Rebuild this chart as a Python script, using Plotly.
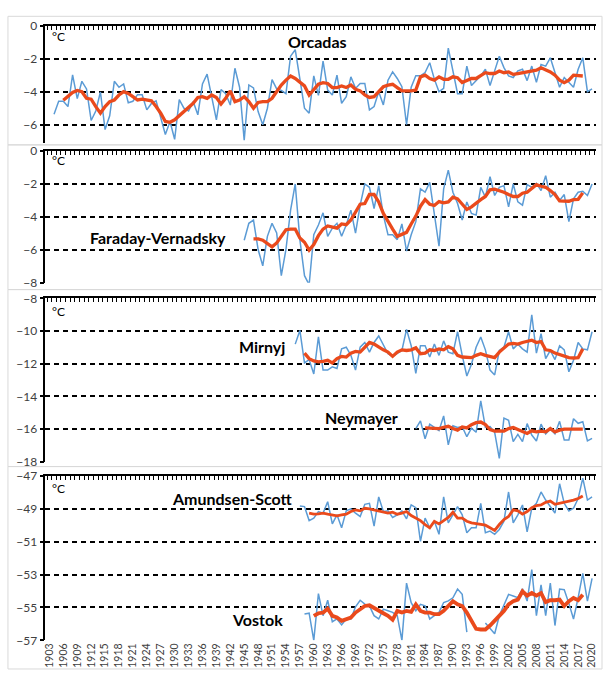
import plotly.graph_objects as go

# ---------------- data ----------------
orcadas_years = list(range(1904, 2021))
orcadas_t = [
    -5.36, -4.58, -4.58, -4.90, -2.98, -4.42, -3.37, -3.83, -5.74, -5.17,
    -4.02, -6.29, -5.46, -3.37, -3.73, -3.53, -4.67, -4.58, -4.18, -4.18,
    -5.10, -4.71, -4.55, -5.60, -6.59, -5.80, -6.88, -4.48, -5.00, -5.17,
    -4.60, -5.40, -3.53, -2.94, -4.42, -5.70, -3.87, -4.12, -4.81, -2.58,
    -3.73, -6.94, -3.59, -3.77, -5.20, -6.00, -5.00, -3.27, -3.83, -3.92,
    -4.12, -1.85, -1.46, -3.14, -5.00, -5.30, -3.04, -4.22, -2.15, -3.90,
    -4.20, -3.00, -4.70, -4.30, -3.10, -3.80, -3.50, -3.50, -5.10, -4.90,
    -4.00, -4.80, -3.30, -2.80, -3.20, -3.70, -6.00, -3.73, -3.04, -3.04,
    -2.84, -2.25, -3.24, -4.00, -3.80, -1.36, -2.64, -4.12, -4.12, -2.45,
    -3.63, -3.33, -3.04, -2.64, -3.63, -2.74, -1.85, -2.54, -3.04, -3.14,
    -2.74, -2.64, -3.33, -2.45, -3.43, -2.35, -2.45, -1.95, -2.84, -3.73,
    -3.14, -3.43, -3.73, -2.64, -1.95, -4.00, -3.83,
]
orcadas_avg_years = list(range(1906, 2019))
orcadas_avg = [
    -4.52, -4.26, -4.05, -3.92, -4.00, -4.40, -4.45, -4.90, -5.30, -4.90,
    -4.60, -4.50, -4.20, -4.00, -4.10, -4.30, -4.50, -4.45, -4.50, -4.55,
    -4.90, -5.30, -5.80, -5.85, -5.70, -5.45, -5.25, -5.00, -4.70, -4.35,
    -4.30, -4.40, -4.20, -4.35, -4.75, -4.40, -3.95, -4.60, -4.50, -4.30,
    -4.60, -5.00, -4.65, -4.60, -4.60, -4.40, -4.00, -3.60, -3.30, -3.05,
    -3.20, -3.45, -3.65, -4.20, -3.90, -3.55, -3.45, -3.50, -3.75, -3.75,
    -3.65, -3.75, -3.60, -3.85, -3.95, -4.20, -4.35, -4.30, -4.00, -3.70,
    -3.60, -3.55, -3.75, -3.95, -3.95, -3.95, -3.90, -3.10, -3.00, -3.20,
    -3.30, -3.10, -3.25, -3.25, -3.10, -3.15, -3.45, -3.30, -3.20, -3.20,
    -3.00, -2.85, -2.90, -2.90, -2.75, -2.85, -2.80, -2.95, -2.90, -2.85,
    -2.80, -2.70, -2.70, -2.55, -2.65, -2.80, -3.00, -3.30, -3.45, -3.30,
    -3.00, -3.00, -3.05,
]

faraday_years = list(range(1945, 2021))
faraday_t = [
    -5.42, -4.39, -4.19, -5.98, -6.97, -5.18, -4.39, -4.98, -7.57, -5.98,
    -3.59, -2.00, -5.38, -7.57, -8.12, -5.08, -4.49, -3.75, -5.18, -4.68,
    -4.39, -5.18, -4.49, -3.59, -4.98, -3.29, -2.00, -2.20, -3.49, -2.10,
    -3.89, -5.08, -5.08, -5.38, -4.43, -6.08, -5.08, -4.29, -2.30, -2.50,
    -1.90, -3.79, -5.78, -2.30, -1.16, -2.50, -3.19, -4.19, -3.09, -3.79,
    -3.89, -2.20, -2.80, -1.56, -2.70, -2.20, -2.10, -3.39, -2.00, -3.09,
    -3.29, -2.04, -2.20, -1.96, -2.40, -1.50, -2.80, -2.50, -3.00, -2.64,
    -4.29, -2.90, -2.50, -2.44, -2.70, -2.00,
]
faraday_avg_years = list(range(1947, 2019))
faraday_avg = [
    -5.34, -5.34, -5.42, -5.62, -5.82, -5.58, -5.18, -4.78, -4.74, -4.74,
    -5.28, -5.54, -6.02, -5.68, -5.14, -4.74, -4.55, -4.63, -4.68, -4.43,
    -4.47, -4.19, -3.69, -3.23, -3.19, -2.64, -2.64, -3.09, -3.79, -4.29,
    -4.74, -5.18, -5.08, -4.94, -4.43, -3.95, -3.35, -2.95, -3.23, -3.31,
    -3.07, -3.15, -3.09, -2.80, -2.90, -3.23, -3.55, -3.39, -3.15, -2.95,
    -2.76, -2.36, -2.32, -2.40, -2.50, -2.64, -2.76, -2.76, -2.56, -2.50,
    -2.30, -2.04, -2.14, -2.20, -2.40, -2.64, -3.03, -3.05, -3.05, -2.95,
    -2.93, -2.54,
]

mirnyj_years = list(range(1956, 2021))
mirnyj_t = [
    -10.80, -9.96, -11.95, -11.75, -12.63, -10.36, -12.39, -12.39, -12.19, -12.29,
    -11.09, -10.99, -11.49, -12.39, -10.99, -10.70, -11.29, -10.70, -10.30, -10.80,
    -11.39, -11.55, -11.39, -11.19, -9.90, -10.90, -12.59, -10.90, -10.90, -11.59,
    -10.80, -11.49, -10.60, -11.29, -11.39, -10.04, -11.49, -12.75, -12.03, -10.99,
    -10.36, -11.15, -12.39, -12.69, -11.19, -10.99, -10.04, -11.09, -10.80, -11.09,
    -11.29, -9.00, -11.35, -10.16, -11.69, -11.19, -11.75, -10.90, -11.15, -12.49,
    -11.79, -10.70, -11.09, -11.15, -10.04,
]
mirnyj_avg_years = list(range(1958, 2019))
mirnyj_avg = [
    -11.35, -11.69, -11.83, -11.89, -11.85, -11.79, -11.95, -11.69, -11.55, -11.59,
    -11.35, -11.25, -11.29, -10.99, -10.70, -10.80, -10.99, -11.15, -11.29, -11.55,
    -11.29, -11.15, -11.19, -11.15, -11.03, -11.39, -11.35, -11.15, -11.19, -11.09,
    -11.15, -10.96, -11.09, -11.49, -11.59, -11.59, -11.63, -11.49, -11.39, -11.49,
    -11.55, -11.63, -11.29, -11.03, -10.80, -10.76, -10.80, -10.70, -10.64, -10.56,
    -10.70, -10.64, -11.15, -11.19, -11.35, -11.43, -11.55, -11.63, -11.65, -11.63,
    -11.09,
]

neymayer_years = list(range(1982, 2021))
neymayer_t = [
    -15.97, -15.50, -16.60, -15.70, -15.90, -16.10, -15.20, -16.97, -15.80, -15.90,
    -15.85, -16.47, -15.95, -16.20, -14.28, -15.90, -15.85, -16.20, -17.80, -15.33,
    -15.47, -16.77, -16.33, -16.77, -15.67, -16.37, -16.73, -15.70, -16.30, -16.00,
    -16.30, -15.53, -16.67, -16.67, -15.37, -15.65, -15.55, -16.73, -16.57,
]
neymayer_avg_years = list(range(1984, 2019))
neymayer_avg = [
    -15.93, -15.93, -15.93, -15.97, -15.89, -15.83, -15.97, -16.07, -15.87, -15.93,
    -15.73, -15.61, -15.57, -15.73, -16.03, -16.13, -16.11, -16.13, -15.97, -15.91,
    -16.03, -16.13, -16.27, -16.11, -16.17, -16.13, -16.17, -15.97, -16.17, -16.07,
    -16.01, -16.01, -16.01, -16.01, -16.01,
]

amundsen_years = list(range(1957, 2021))
amundsen_t = [
    -48.82, -48.86, -49.71, -49.56, -49.16, -49.26, -48.56, -49.91, -49.36, -50.15,
    -49.12, -49.00, -49.26, -49.46, -48.72, -48.66, -50.05, -48.27, -49.16, -49.12,
    -49.52, -49.36, -49.12, -49.60, -48.76, -48.92, -50.98, -49.56, -50.15, -49.75,
    -50.55, -48.27, -49.85, -49.36, -48.86, -49.36, -50.45, -50.15, -50.15, -48.66,
    -50.45, -50.35, -50.55, -50.25, -49.75, -47.97, -49.85, -49.36, -48.76, -50.39,
    -48.96, -48.66, -47.97, -48.46, -48.86, -49.26, -47.47, -48.66, -49.12, -48.96,
    -48.37, -47.13, -48.46, -48.27,
]
amundsen_avg_years = list(range(1959, 2019))
amundsen_avg = [
    -49.26, -49.32, -49.30, -49.26, -49.32, -49.36, -49.42, -49.36, -49.32, -49.16,
    -49.06, -49.12, -48.96, -49.00, -49.06, -49.12, -49.16, -49.26, -49.20, -49.32,
    -49.26, -49.16, -49.40, -49.56, -49.71, -49.95, -50.15, -49.75, -49.91, -49.71,
    -49.52, -49.20, -49.56, -49.56, -49.75, -49.85, -49.89, -49.95, -49.99, -50.15,
    -50.31, -49.95, -49.65, -49.46, -49.06, -49.12, -49.32, -49.16, -48.92, -48.80,
    -48.76, -48.60, -48.52, -48.72, -48.66, -48.60, -48.52, -48.46, -48.37, -48.21,
]

vostok_years = list(range(1958, 2021))
vostok_t = [
    -55.40, -55.35, -57.00, -54.16, -55.50, -54.56, -55.87, -55.70, -56.06, -55.70,
    -55.70, -54.96, -54.56, -54.80, -54.90, -55.50, -55.70, -55.10, -55.20, -55.30,
    -55.50, -57.00, -53.52, -54.71, -55.20, -54.81, -54.90, -55.70, -55.50, -55.30,
    -54.70, -54.60, -54.41, -53.88, -54.20, -56.50, None, None, None, -55.94,
    -56.30, -56.60, -55.50, -54.90, -54.20, -54.30, -54.40, -53.86, -54.61, -52.69,
    -55.50, -53.62, -55.50, -53.52, -56.10, -53.88, -53.92, -54.75, -55.70, -54.40,
    -52.93, -54.61, -53.23,
]
vostok_avg_years = list(range(1960, 2019))
vostok_avg = [
    -55.51, -55.35, -55.31, -55.07, -55.51, -55.61, -55.81, -55.71, -55.61, -55.31,
    -55.11, -54.91, -54.87, -55.01, -55.21, -55.35, -55.51, -55.75, -55.21, -55.31,
    -55.21, -55.27, -54.81, -55.21, -55.31, -55.31, -55.41, -55.41, -55.21, -54.91,
    -54.62, -54.81, -54.91, -55.31, -55.81, -56.30, -56.34, -56.34, -56.10, -55.81,
    -55.51, -55.21, -54.81, -54.62, -54.52, -54.02, -54.28, -54.12, -54.28, -54.12,
    -54.67, -54.56, -54.56, -54.52, -54.91, -54.62, -54.42, -54.56, -54.22,
]

tick_labels = [
    "1903", "1906", "1909", "1912", "1915", "1918", "1921", "1924", "1927", "1930",
    "1933", "1936", "1939", "1942", "1945", "1948", "1951", "1954", "1957", "1960",
    "1963", "1966", "1969", "1972", "1975", "1978", "1981", "1984", "1987", "1990",
    "1993", "1996", "1999", "2002", "2005", "2008", "2011", "2014", "2017", "2020",
]

# ---------------- styling / layout ----------------
W, H = 605, 675
BLUE = "#5b9bd5"
RED = "#ea4a1c"
FONT = "Lato, Carlito, 'Liberation Sans', sans-serif"
X_RANGE = [1902.14, 2020.86]
X_DOM = [42.7 / W, 597 / W]


def py(y):
    return 1 - y / H


# (top px, bottom px, y-range, top tick)
panels = [
    (18.0, 138.0, [-7.1, 0], 0),
    (146.3, 281.0, [-8, 0], 0),
    (297.0, 464.0, [-18, -8], -8),
    (478.7, 646.7, [-57, -47], -47),
]

fig = go.Figure()


def add_series(years, vals, avg_years, avg, axis_idx, red_w=3.3, xname=None):
    xa = xname or ("x" if axis_idx == 1 else f"x{axis_idx}")
    ya = "y" if axis_idx == 1 else f"y{axis_idx}"
    fig.add_trace(go.Scatter(x=years, y=vals, mode="lines", xaxis=xa, yaxis=ya,
                             line=dict(color=BLUE, width=1.5), connectgaps=False,
                             hoverinfo="skip"))
    fig.add_trace(go.Scatter(x=avg_years, y=avg, mode="lines", xaxis=xa, yaxis=ya,
                             line=dict(color=RED, width=red_w), hoverinfo="skip"))


add_series(orcadas_years, orcadas_t, orcadas_avg_years, orcadas_avg, 1)
add_series(faraday_years, faraday_t, faraday_avg_years, faraday_avg, 2)
add_series(mirnyj_years, mirnyj_t, mirnyj_avg_years, mirnyj_avg, 3)
add_series(neymayer_years, neymayer_t, neymayer_avg_years, neymayer_avg, 3)
add_series(amundsen_years, amundsen_t, amundsen_avg_years, amundsen_avg, 4, red_w=2.8)
add_series(vostok_years, vostok_t, vostok_avg_years, vostok_avg, 4, red_w=3.8, xname="x5")

layout = dict(
    width=W, height=H, margin=dict(l=0, r=0, t=0, b=0),
    paper_bgcolor="white", plot_bgcolor="rgba(0,0,0,0)",
    showlegend=False, font=dict(family=FONT, color="#404040"),
)

for i, (top, bot, rng, t0) in enumerate(panels, start=1):
    xk = "xaxis" if i == 1 else f"xaxis{i}"
    yk = "yaxis" if i == 1 else f"yaxis{i}"
    layout[xk] = dict(
        domain=X_DOM, range=X_RANGE, anchor="y" if i == 1 else f"y{i}",
        side="top", showline=True, linecolor="black", linewidth=2,
        ticks="inside", ticklen=4, tickwidth=1.2, tickcolor="black",
        tick0=1902.5, dtick=1, showticklabels=False, showgrid=False, zeroline=False,
    )
    layout[yk] = dict(
        domain=[py(bot), py(top)], range=rng, anchor="x" if i == 1 else f"x{i}",
        showline=True, linecolor="black", linewidth=1.8,
        ticks="outside", ticklen=4, tickwidth=1.5, tickcolor="black",
        tick0=t0, dtick=2, showgrid=True, gridcolor="black", gridwidth=1.7,
        griddash="5px,4px", zeroline=False,
        tickfont=dict(size=12, color="#404040", family=FONT),
    )

layout["xaxis5"] = dict(
    overlaying="x4", anchor="y4", side="bottom", range=X_RANGE,
    showline=False, ticks="", showgrid=False, zeroline=False,
    tickmode="array", tickvals=[int(t) for t in tick_labels], ticktext=tick_labels,
    tickangle=-90, tickfont=dict(size=10.5, color="#404040", family=FONT),
)

# panel frames
frames = [(8.5, 140), (140, 288), (288, 469), (469, 676)]
shapes = []
for y0, y1 in frames:
    shapes.append(dict(type="rect", xref="paper", yref="paper",
                       x0=5 / W, x1=603 / W, y0=py(y1), y1=py(y0),
                       line=dict(color="#d9d9d9", width=1), layer="below"))
layout["shapes"] = shapes

names = [
    ("Orcadas", 317, 34),
    ("Faraday-Vernadsky", 156, 235),
    ("Mirnyj", 261, 346),
    ("Neymayer", 361, 419),
    ("Amundsen-Scott", 231, 502),
    ("Vostok", 256, 625),
]
ann = []
for txt, cx, cy in names:
    ann.append(dict(text=f"<b>{txt}</b>", x=cx / W, y=py(cy), xref="paper", yref="paper",
                    showarrow=False, xanchor="center", yanchor="middle",
                    font=dict(size=16, color="black", family=FONT)))
for cy in (29, 156, 310, 491):
    ann.append(dict(text="°C", x=47 / W, y=py(cy), xref="paper", yref="paper",
                    showarrow=False, xanchor="left", yanchor="middle",
                    font=dict(size=12, color="black", family=FONT)))
layout["annotations"] = ann

fig.update_layout(**layout)
fig.write_html("out.html")
